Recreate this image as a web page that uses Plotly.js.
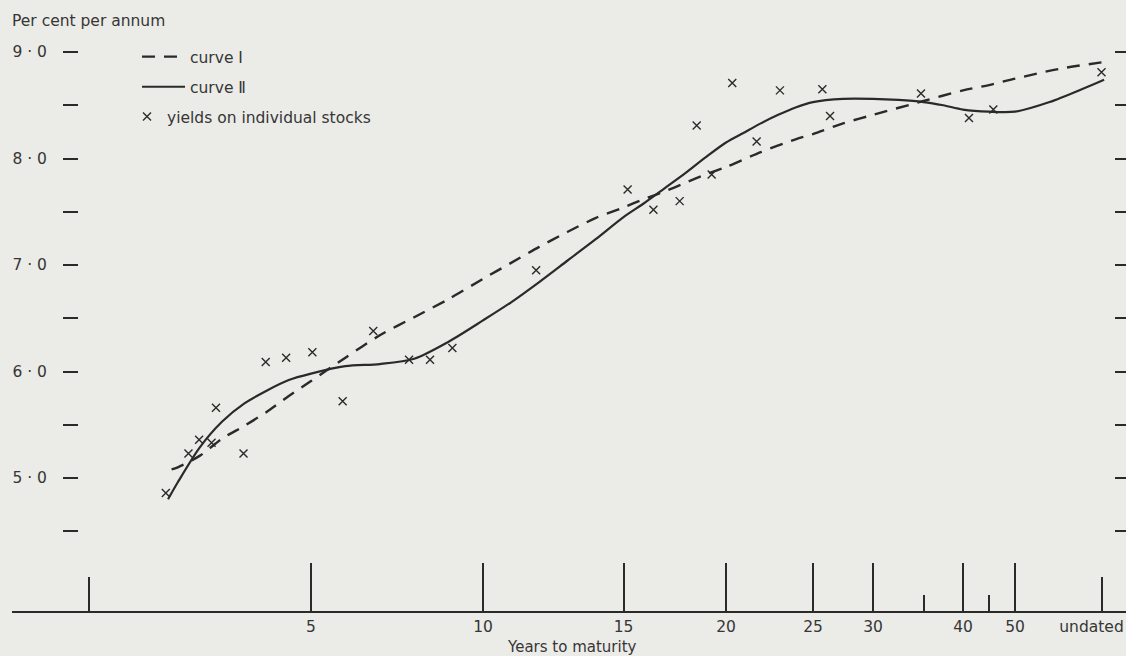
<!DOCTYPE html>
<html>
<head>
<meta charset="utf-8">
<script src="https://cdn.plot.ly/plotly-3.0.1.min.js"></script>
<style>
  html, body { margin: 0; padding: 0; background: #ebebe7; }
  #chart { width: 1126px; height: 656px; }
</style>
</head>
<body>
<div id="chart"></div>
<script>
// ---- Axis scale of the printed chart (non-linear maturity scale) ----
const UNDATED = 60; // internal stand-in for "undated" stocks
const scaleYears = [0, 5, 10, 15, 20, 25, 30, 35, 40, 45, 50, UNDATED];
const scaleStops = [0, 22.2, 39.4, 53.45, 63.7, 72.4, 78.4, 83.45, 87.4, 90.0, 92.6, 101.25];

const majorTickYears = [5, 10, 15, 20, 25, 30, 40, 50];
const majorTickText  = ['5', '10', '15', '20', '25', '30', '40', '50'];
const minorTickYears = [35, 45];
const endTickYears   = [0, UNDATED];
const endTickText    = ['', 'undated'];

const yTickVals = [4.5, 5, 5.5, 6, 6.5, 7, 7.5, 8, 8.5, 9];
const yTickText = ['', '5 · 0', '', '6 · 0', '', '7 · 0', '', '8 · 0', '', '9 · 0'];

// ---- Yields on individual stocks ----
const stockYears  = [1.73, 2.24, 2.48, 2.76, 2.86, 3.48, 3.98, 4.44, 5.04, 5.92, 6.81, 7.85, 8.46, 9.11,
                     11.89, 15.20, 16.46, 17.74, 18.57, 19.30, 20.36, 21.76, 23.10, 25.78, 26.42, 34.75, 41.15, 45.83];
const stockYields = [4.86, 5.23, 5.36, 5.33, 5.66, 5.23, 6.09, 6.13, 6.18, 5.72, 6.38, 6.11, 6.11, 6.22,
                     6.95, 7.71, 7.52, 7.60, 8.31, 7.85, 8.71, 8.16, 8.64, 8.65, 8.40, 8.61, 8.38, 8.46];
const undatedYields = [8.81];

// ---- Curve I (dashed) ----
const curve1Years  = [1.86, 2, 2.5, 3, 3.5, 4, 4.5, 5, 6, 7, 8, 9, 10, 11, 12, 13, 14, 15, 16, 17, 18, 19, 20,
                      22, 24, 25, 27.5, 30, 35, 40, 45, 50, 55, 60.6];
const curve1Yields = [5.08, 5.10, 5.21, 5.37, 5.49, 5.62, 5.77, 5.91, 6.13, 6.34, 6.51, 6.68, 6.87, 7.02, 7.17,
                      7.31, 7.44, 7.54, 7.62, 7.69, 7.77, 7.85, 7.92, 8.06, 8.18, 8.23, 8.33, 8.41, 8.54, 8.64,
                      8.69, 8.75, 8.84, 8.91];

// ---- Curve II (solid) ----
const curve2Years  = [1.78, 2, 2.5, 3, 3.5, 4, 4.5, 5, 6, 7, 8, 9, 10, 11, 12, 13, 14, 15, 16, 17, 18, 19, 20,
                      21, 22, 23, 24, 25, 27.5, 30, 32.5, 35, 37.5, 40, 45, 50, 54, 58, 60.3];
const curve2Yields = [4.80, 4.96, 5.29, 5.53, 5.70, 5.82, 5.92, 5.98, 6.05, 6.07, 6.12, 6.28, 6.48, 6.65, 6.84,
                      7.04, 7.24, 7.45, 7.58, 7.72, 7.86, 8.01, 8.15, 8.24, 8.33, 8.41, 8.48, 8.53, 8.56, 8.56,
                      8.55, 8.53, 8.50, 8.46, 8.44, 8.44, 8.53, 8.66, 8.74];

// piecewise-linear maturity scale
function toScale(yr) {
  const n = scaleYears.length;
  let i = 0;
  while (i < n - 2 && yr > scaleYears[i + 1]) i++;
  const y0 = scaleYears[i], y1 = scaleYears[i + 1];
  const p0 = scaleStops[i], p1 = scaleStops[i + 1];
  return p0 + (yr - y0) / (y1 - y0) * (p1 - p0);
}
const mapAll = arr => arr.map(toScale);

const INK = '#2a2a2a';
const FONT = { family: 'DejaVu Sans, Verdana, sans-serif', size: 15.5, color: '#363636' };
const TITLE_FONT = { family: 'DejaVu Sans, Verdana, sans-serif', size: 15, color: '#363636' };
const Y_RANGE = [3.751, 9.113];
const X_RANGE = [-7.7, 103.7];

const traces = [
  {
    x: mapAll(curve1Years), y: curve1Yields, type: 'scatter', mode: 'lines',
    name: 'curve \u2160', legend: 'legend', legendgroup: 'c1',
    line: { color: INK, width: 2.4, dash: '13px,9px', shape: 'spline', smoothing: 0.8 },
    hoverinfo: 'skip'
  },
  {
    x: mapAll(curve2Years), y: curve2Yields, type: 'scatter', mode: 'lines',
    name: 'curve \u2161', legend: 'legend', legendgroup: 'c2',
    line: { color: INK, width: 2.2, shape: 'spline', smoothing: 0.8 },
    hoverinfo: 'skip'
  },
  {
    x: mapAll(stockYears), y: stockYields, type: 'scatter', mode: 'markers',
    name: 'yields on individual stocks', legend: 'legend2',
    marker: { symbol: 'x-thin', size: 8, color: INK, line: { color: INK, width: 1.4 } }
  },
  {
    x: mapAll([UNDATED]), y: undatedYields, type: 'scatter', mode: 'markers',
    xaxis: 'x2', yaxis: 'y2', showlegend: false,
    marker: { symbol: 'x-thin', size: 8, color: INK, line: { color: INK, width: 1.4 } }
  }
];

const layout = {
  width: 1126, height: 656,
  margin: { l: 12, r: 0, t: 40, b: 45 },
  paper_bgcolor: '#ebebe7', plot_bgcolor: '#ebebe7',
  font: FONT,
  showlegend: true,
  xaxis: {
    range: X_RANGE, showgrid: false, zeroline: false,
    showline: true, linecolor: INK, linewidth: 2,
    tickmode: 'array', tickvals: mapAll(majorTickYears), ticktext: majorTickText,
    ticks: 'inside', ticklen: 48, tickwidth: 2, tickcolor: INK,
    tickfont: FONT, ticklabelstandoff: 0,
    minor: { tickmode: 'array', tickvals: mapAll(minorTickYears), ticks: 'inside', ticklen: 16, tickwidth: 2, tickcolor: INK, showgrid: false },
    fixedrange: true
  },
  xaxis2: {
    range: X_RANGE, overlaying: 'x', anchor: 'y', side: 'bottom',
    showgrid: false, zeroline: false, showline: false,
    tickmode: 'array', tickvals: mapAll(endTickYears), ticktext: endTickText,
    ticks: 'inside', ticklen: 34, tickwidth: 2, tickcolor: INK,
    tickfont: FONT, ticklabelstandoff: 4, ticklabeloverflow: 'allow', ticklabelshift: -10
  },
  yaxis: {
    range: Y_RANGE, anchor: 'free', position: (78 - 12) / 1114,
    showgrid: false, zeroline: false, showline: false,
    tickmode: 'array', tickvals: yTickVals, ticktext: yTickText,
    ticks: 'outside', ticklen: 15, tickwidth: 2, tickcolor: INK,
    tickfont: FONT, ticklabelstandoff: 13
  },
  yaxis2: {
    range: Y_RANGE, overlaying: 'y', side: 'right', anchor: 'x',
    showgrid: false, zeroline: false, showline: false,
    tickmode: 'array', tickvals: yTickVals, showticklabels: false,
    ticks: 'inside', ticklen: 11, tickwidth: 2, tickcolor: INK
  },
  legend: {
    x: (137 - 12) / 1114, xanchor: 'left', y: (611 - 40) / 571, yanchor: 'top',
    bgcolor: 'rgba(0,0,0,0)', borderwidth: 0, font: FONT,
    itemwidth: 43, tracegroupgap: 7, traceorder: 'grouped'
  },
  legend2: {
    x: (127 - 12) / 1114, xanchor: 'left', y: (611 - 100) / 571, yanchor: 'top',
    bgcolor: 'rgba(0,0,0,0)', borderwidth: 0, font: FONT, itemwidth: 30
  },
  annotations: [
    { text: 'Per cent per annum', xref: 'paper', yref: 'paper', x: -0.002, y: (611 - 21) / 571,
      xanchor: 'left', yanchor: 'middle', showarrow: false, font: FONT },
    { text: 'Years to maturity', xref: 'paper', yref: 'paper', x: (572 - 12) / 1114, y: (611 - 647) / 571,
      xanchor: 'center', yanchor: 'middle', showarrow: false, font: TITLE_FONT }
  ]
};

Plotly.newPlot('chart', traces, layout, { displayModeBar: false, staticPlot: true });
</script>
</body>
</html>
